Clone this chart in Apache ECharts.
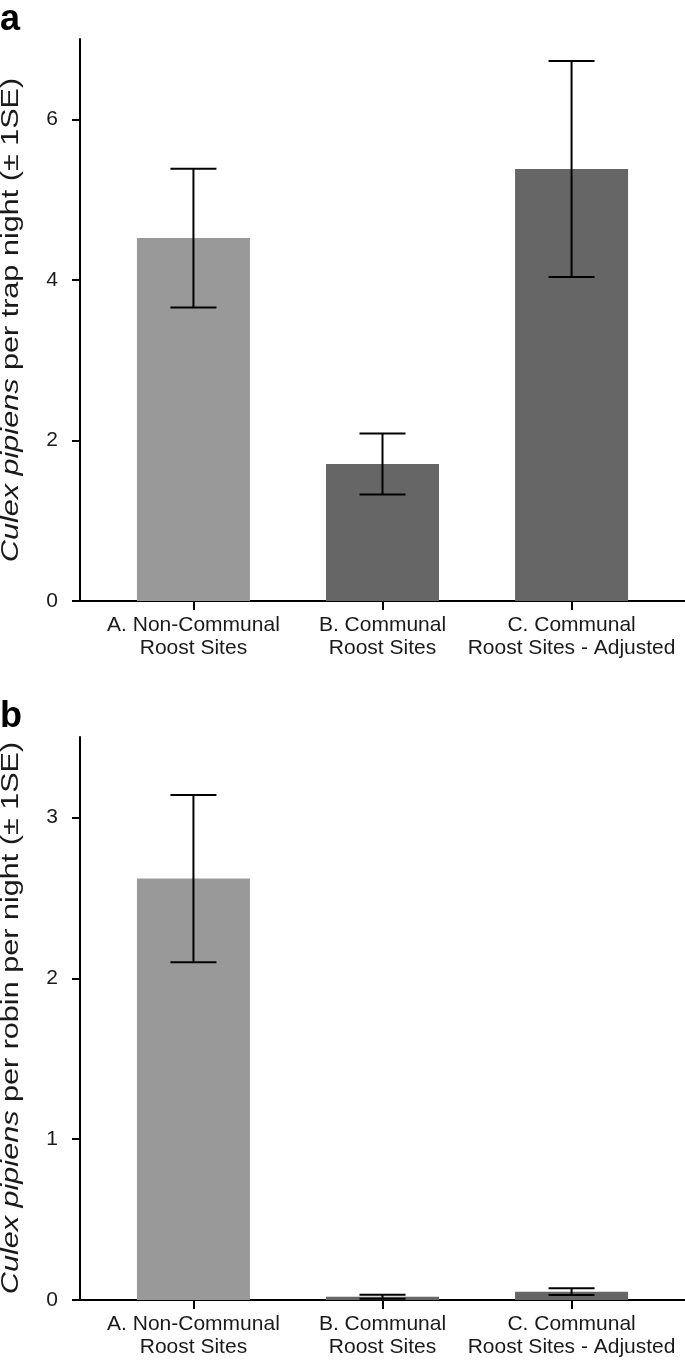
<!DOCTYPE html>
<html><head><meta charset="utf-8">
<script src="https://cdn.jsdelivr.net/npm/echarts@6/dist/echarts.min.js"></script>
<style>html,body{margin:0;padding:0;background:#fff}#c{width:685px;height:1360px}</style>
</head><body><div id="c"></div>
<script>
const categories = ['A. Non-Communal\nRoost Sites', 'B. Communal\nRoost Sites', 'C. Communal\nRoost Sites - Adjusted'];
const categoryPos = [0, 1, 2];
const trapMeans = [4.52, 1.705, 5.38];
const trapSE = [0.865, 0.38, 1.345];
const robinMeans = [2.62, 0.02, 0.052];
const robinSE = [0.52, 0.013, 0.021];
const trapTicks = [0, 2, 4, 6];
const robinTicks = [0, 1, 2, 3];
const barColors = ['#999999', '#666666', '#666666'];

const FONT = '"Liberation Sans", Arial, sans-serif';
const TXT = '#1a1a1a';

function barData(means) {
  return means.map((v, i) => ({ value: [categoryPos[i], v], itemStyle: { color: barColors[i] } }));
}
function errData(means, se) {
  return means.map((v, i) => [categoryPos[i], v - se[i], v + se[i]]);
}
function renderErr(params, api) {
  const x = api.value(0), lo = api.value(1), hi = api.value(2);
  const pHi = api.coord([x, hi]), pLo = api.coord([x, lo]);
  const hw = 23;
  const style = { stroke: '#000', lineWidth: 2 };
  return { type: 'group', children: [
    { type: 'line', shape: { x1: pHi[0], y1: pHi[1], x2: pLo[0], y2: pLo[1] }, style },
    { type: 'line', shape: { x1: pHi[0] - hw, y1: pHi[1], x2: pHi[0] + hw, y2: pHi[1] }, style },
    { type: 'line', shape: { x1: pLo[0] - hw, y1: pLo[1], x2: pLo[0] + hw, y2: pLo[1] }, style }
  ]};
}
function xAxisCfg(gi) {
  return {
    type: 'value', gridIndex: gi, min: -0.6, max: 2.6,
    axisLine: { show: true, onZero: false, lineStyle: { color: '#000', width: 2 } },
    axisTick: { show: true, length: 9, customValues: categoryPos, lineStyle: { color: '#000', width: 2 } },
    axisLabel: { customValues: categoryPos, margin: 13, fontSize: 21, lineHeight: 23, color: TXT, fontFamily: FONT,
      formatter: v => categories[Math.round(v)] },
    splitLine: { show: false }
  };
}
function yAxisCfg(gi, max, ticks) {
  return {
    type: 'value', gridIndex: gi, min: 0, max: max,
    axisLine: { show: true, onZero: false, lineStyle: { color: '#000', width: 2 } },
    axisTick: { show: true, length: 8, customValues: ticks, lineStyle: { color: '#000', width: 2 } },
    axisLabel: { customValues: ticks, margin: 22, fontSize: 21, color: TXT, fontFamily: FONT },
    splitLine: { show: false }
  };
}
function titleText(x, y, text) {
  return { type: 'text', x: x, y: y, rotation: Math.PI / 2, scaleX: 1.33,
    style: { text: text, fontSize: 23, fontFamily: FONT, fill: TXT, align: 'center', verticalAlign: 'middle',
      rich: { i: { fontStyle: 'italic', fontSize: 23, fontFamily: FONT, fill: TXT } } } };
}

const chart = echarts.init(document.getElementById('c'), null, { renderer: 'canvas' });
chart.setOption({
  animation: false,
  backgroundColor: '#fff',
  grid: [
    { left: 80, right: 0, top: 39, height: 562 },
    { left: 80, right: 0, top: 737, height: 563 }
  ],
  xAxis: [xAxisCfg(0), xAxisCfg(1)],
  yAxis: [yAxisCfg(0, 7, trapTicks), yAxisCfg(1, 3.5, robinTicks)],
  series: [
    { type: 'bar', xAxisIndex: 0, yAxisIndex: 0, barWidth: 113, data: barData(trapMeans) },
    { type: 'custom', xAxisIndex: 0, yAxisIndex: 0, renderItem: renderErr, encode: { x: 0, y: [1, 2] }, data: errData(trapMeans, trapSE), z: 5 },
    { type: 'bar', xAxisIndex: 1, yAxisIndex: 1, barWidth: 113, data: barData(robinMeans) },
    { type: 'custom', xAxisIndex: 1, yAxisIndex: 1, renderItem: renderErr, encode: { x: 0, y: [1, 2] }, data: errData(robinMeans, robinSE), z: 5 }
  ],
  graphic: [
    { type: 'text', x: 0, y: 20.5, style: { text: 'a', fontSize: 36, fontWeight: 'bold', fontFamily: FONT, fill: '#000', verticalAlign: 'middle' } },
    { type: 'text', x: 0, y: 717.5, style: { text: 'b', fontSize: 36, fontWeight: 'bold', fontFamily: FONT, fill: '#000', verticalAlign: 'middle' } },
    titleText(12, 320, '{i|Culex pipiens} per trap night (± 1SE)'),
    titleText(12, 1018, '{i|Culex pipiens} per robin per night (± 1SE)')
  ]
});
</script></body></html>
